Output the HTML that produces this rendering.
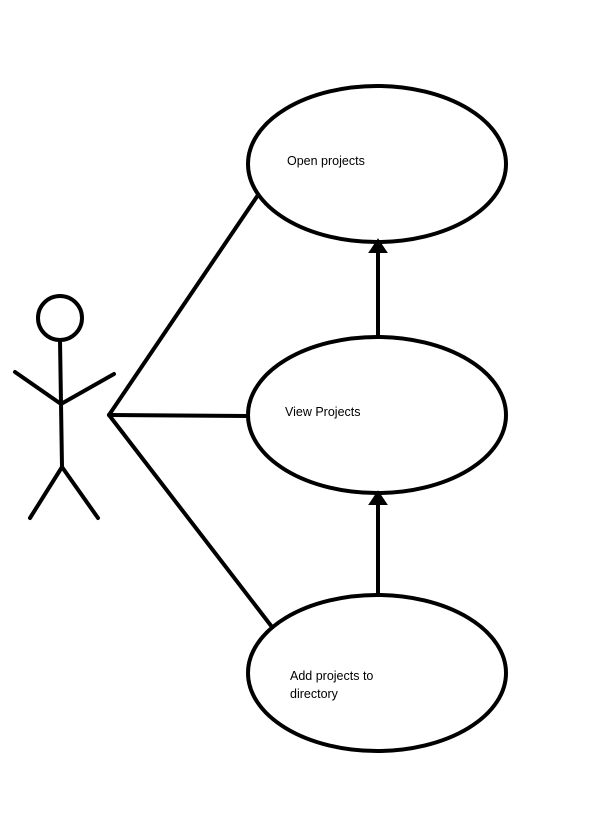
<!DOCTYPE html>
<html><head><meta charset="utf-8"><style>
html,body{margin:0;padding:0;background:#fff;width:601px;height:833px;overflow:hidden}
text{font-family:"Liberation Sans",sans-serif;font-size:12.5px;fill:#000}
</style></head><body>
<svg width="601" height="833" viewBox="0 0 601 833" xmlns="http://www.w3.org/2000/svg">
<g fill="none" stroke="#000" stroke-width="4" stroke-linecap="round">
<ellipse cx="377" cy="164" rx="129" ry="78"/>
<ellipse cx="377" cy="415" rx="129" ry="78"/>
<ellipse cx="377" cy="673" rx="129" ry="78"/>
<line x1="378" y1="337" x2="378" y2="250"/>
<line x1="378" y1="595" x2="378" y2="502"/>
<circle cx="60" cy="318" r="22"/>
<line x1="60" y1="340" x2="62" y2="467"/>
<line x1="15" y1="372" x2="61" y2="404"/>
<line x1="61" y1="404" x2="114" y2="374"/>
<line x1="62" y1="467" x2="30" y2="518"/>
<line x1="62" y1="467" x2="98" y2="518"/>
<line x1="109" y1="415" x2="258" y2="195"/>
<line x1="109" y1="415" x2="248" y2="416"/>
<line x1="109" y1="415" x2="272" y2="627"/>
</g>
<polygon points="370,252 378,240 386,252" fill="#000" stroke="#000" stroke-width="2"/>
<polygon points="370,504 378,492 386,504" fill="#000" stroke="#000" stroke-width="2"/>
<text x="287" y="165">Open projects</text>
<text x="285" y="416">View Projects</text>
<text x="290" y="680">Add projects to</text>
<text x="290" y="698">directory</text>
</svg>
</body></html>
